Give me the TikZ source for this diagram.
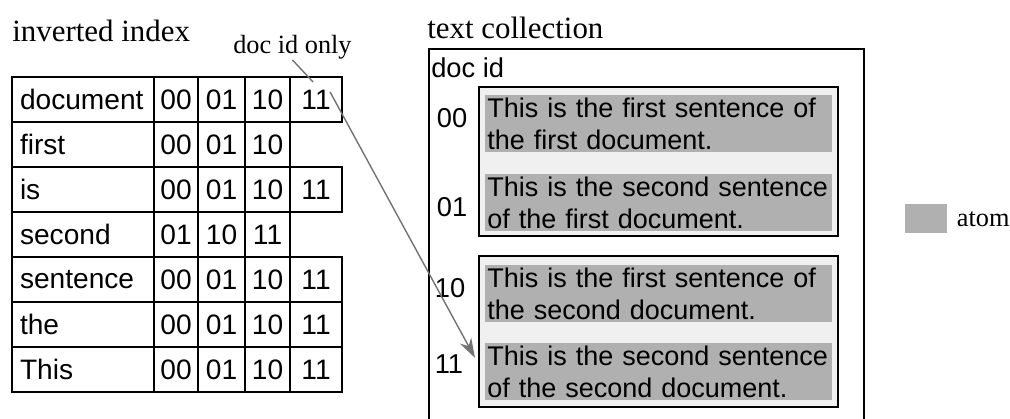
\documentclass[tikz,border=0pt]{standalone}
\usepackage{fontspec}
\setmainfont{Liberation Serif}
\setsansfont{Liberation Sans}
\usepackage{tikz}
\usetikzlibrary{
    positioning,
    arrows.meta,
    calc
}
\definecolor{atomGray}{RGB}{176, 176, 176}
\definecolor{boxGray}{RGB}{240, 240, 240}
\definecolor{linkGray}{RGB}{115, 115, 115}

\tikzset{
    title/.style={font=\fontsize{22}{26}\selectfont, inner sep=0pt, anchor=base west},
    note/.style={font=\fontsize{18.7}{22}\selectfont, inner sep=0pt, anchor=base west},
    cell/.style={draw, line width=1.3pt, inner sep=0pt, outer sep=0pt, minimum height=1.125cm,
        font=\sffamily\fontsize{20}{22}\selectfont},
    word/.style={cell, anchor=north west, text width=3.15cm, inner xsep=0.2cm, align=left},
    ca/.style={cell, minimum width=1.1cm},
    cb/.style={cell, minimum width=1.175cm},
    cc/.style={cell, minimum width=1.125cm},
    cd/.style={cell, minimum width=1.3cm},
    collbox/.style={draw, line width=1.3pt, anchor=north west, minimum width=10.875cm,
        minimum height=9.6cm, inner sep=0pt},
    docbox/.style={draw, line width=1.7pt, fill=boxGray, anchor=north west,
        minimum width=8.975cm, inner sep=0pt, outer sep=0pt},
    sent/.style={fill=atomGray, anchor=north west, text width=8.575cm, inner xsep=0.05cm,
        inner ysep=0pt, minimum height=1.43cm, align=left,
        font=\sffamily\fontsize{19.2}{22.5}\selectfont},
    idlbl/.style={font=\sffamily\fontsize{19.4}{22}\selectfont, inner sep=0pt}
}

\begin{document}
\begin{tikzpicture}[x=0.025cm, y=-0.025cm, >={Stealth[length=14pt, width=9pt]}]
    \clip (0,0) rectangle (1010,419);

    % Titles
    \node[title] (invtitle) at (12,42) {inverted index};
    \node[title] (coltitle) at (427,39) {text collection};
    \node[note] (onlylbl) at (233,54) {doc id only};

    % Inverted index
    \node[word] (doc) at (12,77) {document};
    \node[ca, right=0pt of doc] (doc-00) {00};
    \node[cb, right=0pt of doc-00] (doc-01) {01};
    \node[cc, right=0pt of doc-01] (doc-10) {10};
    \node[cd, right=0pt of doc-10] (doc-11) {11};

    \node[word] (first) at (12,122) {first};
    \node[ca, right=0pt of first] (first-00) {00};
    \node[cb, right=0pt of first-00] (first-01) {01};
    \node[cc, right=0pt of first-01] (first-10) {10};

    \node[word] (is) at (12,167) {is};
    \node[ca, right=0pt of is] (is-00) {00};
    \node[cb, right=0pt of is-00] (is-01) {01};
    \node[cc, right=0pt of is-01] (is-10) {10};
    \node[cd, right=0pt of is-10] (is-11) {11};

    \node[word] (second) at (12,212) {second};
    \node[ca, right=0pt of second] (second-01) {01};
    \node[cb, right=0pt of second-01] (second-10) {10};
    \node[cc, right=0pt of second-10] (second-11) {11};

    \node[word] (sentence) at (12,257) {sentence};
    \node[ca, right=0pt of sentence] (sentence-00) {00};
    \node[cb, right=0pt of sentence-00] (sentence-01) {01};
    \node[cc, right=0pt of sentence-01] (sentence-10) {10};
    \node[cd, right=0pt of sentence-10] (sentence-11) {11};

    \node[word] (the) at (12,302) {the};
    \node[ca, right=0pt of the] (the-00) {00};
    \node[cb, right=0pt of the-00] (the-01) {01};
    \node[cc, right=0pt of the-01] (the-10) {10};
    \node[cd, right=0pt of the-10] (the-11) {11};

    \node[word] (this) at (12,347) {This};
    \node[ca, right=0pt of this] (this-00) {00};
    \node[cb, right=0pt of this-00] (this-01) {01};
    \node[cc, right=0pt of this-01] (this-10) {10};
    \node[cd, right=0pt of this-10] (this-11) {11};

    % Text collection
    \node[collbox] (coll) at (428,48) {};
    \node[idlbl, anchor=west] (docid) at (431,68) {doc id};
    \node[docbox, minimum height=3.725cm] (firstdoc) at (479,87) {};
    \node[docbox, minimum height=3.775cm] (seconddoc) at (479,256) {};

    \node[sent] (s00) at (485,95) {This is the first sentence of\\the first document.};
    \node[sent] (s01) at (485,174) {This is the second sentence\\of the first document.};
    \node[sent] (s10) at (485,265) {This is the first sentence of\\the second document.};
    \node[sent] (s11) at (485,343) {This is the second sentence\\of the second document.};

    \node[idlbl] (id00) at (452,118) {00};
    \node[idlbl] (id01) at (452,207) {01};
    \node[idlbl] (id10) at (450,288) {10};
    \node[idlbl] (id11) at (449,364) {11};

    % Legend
    \node[fill=atomGray, minimum width=1.05cm, minimum height=0.725cm, inner sep=0pt,
        anchor=north west] (atomkey) at (905,204) {};
    \node[note, anchor=west, right=0.225cm of atomkey] (atomlbl) {atom};

    % Links
    \draw[linkGray, line width=1pt] (onlylbl.south) -- ($(doc-11.north west)+(23,5)$);
    \draw[->, linkGray, line width=1pt] ($(doc-11.north east)+(-12,15)$) -- ($(s11.west)+(-10,-14)$);
\end{tikzpicture}
\end{document}
